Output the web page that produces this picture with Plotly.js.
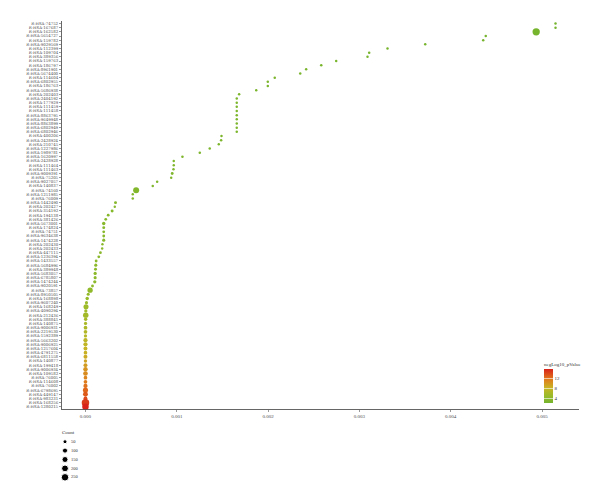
<!DOCTYPE html>
<html>
<head>
<meta charset="utf-8">
<script src="https://cdn.plot.ly/plotly-3.0.1.min.js"></script>
<style>html,body{margin:0;padding:0;background:#fff;}#chart{width:600px;height:502px;}</style>
</head>
<body>
<div id="chart"></div>
<script>
// ---- data (top row first) ----
const pathways = [
"R-HSA-74752","R-HSA-167687","R-HSA-162582","R-HSA-5654727","R-HSA-159782","R-HSA-9029569","R-HSA-112399","R-HSA-109704","R-HSA-389356","R-HSA-159763",
"R-HSA-186797","R-HSA-8961901","R-HSA-5674400","R-HSA-114604","R-HSA-6802955","R-HSA-186763","R-HSA-5686938","R-HSA-202403","R-HSA-2404192","R-HSA-177929",
"R-HSA-111459","R-HSA-111458","R-HSA-8863795","R-HSA-9649948","R-HSA-8863899","R-HSA-6802949","R-HSA-6802946","R-HSA-400206","R-HSA-2428924","R-HSA-210745",
"R-HSA-1227986","R-HSA-1989781","R-HSA-1620997","R-HSA-2428928","R-HSA-111464","R-HSA-111463","R-HSA-9009391","R-HSA-75205","R-HSA-9027057","R-HSA-140837",
"R-HSA-74160","R-HSA-1251985","R-HSA-76009","R-HSA-1442490","R-HSA-202427","R-HSA-354192","R-HSA-194138","R-HSA-381426","R-HSA-5673001","R-HSA-174824",
"R-HSA-74751","R-HSA-9634638","R-HSA-1474228","R-HSA-202430","R-HSA-202433","R-HSA-447115","R-HSA-1236394","R-HSA-1433557","R-HSA-5684996","R-HSA-389948",
"R-HSA-5683057","R-HSA-6785807","R-HSA-1474244","R-HSA-9020591","R-HSA-73857","R-HSA-8950505","R-HSA-168898","R-HSA-9607240","R-HSA-168249","R-HSA-4090294",
"R-HSA-212436","R-HSA-388841","R-HSA-140875","R-HSA-9006931","R-HSA-2219530","R-HSA-1592389","R-HSA-5663202","R-HSA-9006925","R-HSA-1257604","R-HSA-4791275",
"R-HSA-6811558","R-HSA-140877","R-HSA-199418","R-HSA-9006934","R-HSA-109582","R-HSA-76005","R-HSA-114608","R-HSA-76002","R-HSA-6798695","R-HSA-449147",
"R-HSA-983231","R-HSA-168256","R-HSA-1280215"
];
const pValue = [
0.005148,0.005148,0.004936,0.004384,0.004356,0.003721,0.003308,0.003107,0.003089,0.002746,
0.002582,0.002417,0.002352,0.002073,0.001997,0.001997,0.001870,0.001683,0.001657,0.001657,
0.001657,0.001657,0.001657,0.001657,0.001657,0.001657,0.001657,0.001490,0.001486,0.001460,
0.001361,0.001252,0.001062,0.000967,0.000967,0.000964,0.000950,0.000939,0.000785,0.000737,
0.000555,0.000518,0.000518,0.000329,0.000321,0.000292,0.000249,0.000222,0.000200,0.000200,
0.000200,0.000200,0.000200,0.000186,0.000183,0.000164,0.000146,0.000117,0.000113,0.000110,
0.000106,0.000106,0.000102,0.000077,0.000051,0.000030,0.000019,0.000011,0.000006,0.000004,
0.000003,0.000002,0.000001,0.0000005,0.0000003,0.0000001,0.00000005,0.00000003,0.00000001,0.000000005,
0.000000002,0.0000000008,0.0000000004,0.0000000001,0.00000000005,0.00000000002,0.00000000001,0.000000000003,0.000000000001,0.0000000000005,
0.0000000000002,0.0000000000001,0.00000000000004
];
const negLog10 = [
2.29,2.29,2.31,2.36,2.36,2.43,2.48,2.51,2.51,2.56,
2.59,2.62,2.63,2.68,2.70,2.70,2.73,2.77,2.78,2.78,
2.78,2.78,2.78,2.78,2.78,2.78,2.78,2.83,2.83,2.84,
2.87,2.90,2.97,3.01,3.01,3.02,3.02,3.03,3.11,3.13,
3.26,3.29,3.29,3.48,3.49,3.53,3.60,3.65,3.70,3.70,
3.70,3.70,3.70,3.73,3.74,3.78,3.84,3.93,3.95,3.96,
3.97,3.97,3.99,4.11,4.29,4.52,4.72,4.96,5.2,5.4,
5.6,5.8,6.0,6.3,6.6,6.9,7.3,7.6,8.0,8.3,
8.7,9.1,9.5,10.0,10.4,10.8,11.3,11.8,12.3,12.9,
13.6,14.2,15.4
];
const counts = [
3,3,235,3,3,3,3,4,3,3,
4,3,3,4,4,4,3,4,3,3,
3,3,4,3,3,3,4,4,4,2,
3,4,5,3,3,3,12,3,4,3,
150,3,4,15,2,15,12,12,30,15,
12,12,20,2,2,10,12,12,20,15,
25,20,25,12,110,20,30,20,100,25,
120,30,25,40,40,25,60,60,50,40,
50,30,50,70,80,40,40,60,100,90,
50,250,180
];
const countLegend = [50, 100, 150, 200, 250];
const xTicks = [0, 0.001, 0.002, 0.003, 0.004, 0.005];

// size mapping (area linear in count)
const sizeOf = c => Math.sqrt(5.56 + 0.203 * c);

const W = 600, H = 502;
const plotL = 62, plotR = 579, plotT = 21, plotB = 409.3;
const serif = "Liberation Serif, Times New Roman, serif";
const labelFont = "DejaVu Serif, Liberation Serif, serif";

const colorscale = [
  [0.0, "#74b42e"],
  [0.2, "#98bb2a"],
  [0.45, "#c8b424"],
  [0.7, "#e07a1c"],
  [1.0, "#d8231a"]
];

const main = {
  type: "scatter", mode: "markers",
  x: pValue, y: pathways,
  xaxis: "x", yaxis: "y",
  marker: {
    size: counts.map(sizeOf),
    color: negLog10,
    colorscale: colorscale,
    cmin: 2.2, cmax: 15.4,
    opacity: 1,
    line: {width: 0},
    showscale: true,
    colorbar: {
      x: 544 / W, xanchor: "left", xref: "paper", xpad: 0,
      y: (H - 381.3) / H, yanchor: "middle", ypad: 0,
      len: 44, lenmode: "pixels", thickness: 9, outlinewidth: 0,
      ticks: "inside", ticklen: 9, tickcolor: "#ffffff", tickwidth: 0.6,
      tickvals: [4, 8, 12], ticktext: ["4", "8", "12"],
      tickfont: {family: serif, size: 5, color: "#333"},
      title: {text: "negLog10_pValue", side: "top", font: {family: serif, size: 5, color: "#333"}}
    }
  },
  showlegend: false, hoverinfo: "x+y"
};

// size legend (hidden pixel-space axes)
const legY0 = 441.7, legStep = 8.9, legX = 65;
const sizeLeg = {
  type: "scatter", mode: "markers",
  x: countLegend.map(() => legX), y: countLegend.map((_, i) => legY0 + i * legStep),
  xaxis: "x2", yaxis: "y2",
  marker: {size: countLegend.map(sizeOf), color: "#000", opacity: 1},
  showlegend: false, hoverinfo: "skip"
};
const sizeLegText = {
  type: "scatter", mode: "text",
  x: countLegend.map(() => 71), y: countLegend.map((_, i) => legY0 + i * legStep),
  text: countLegend.map(String), textposition: "middle right",
  textfont: {family: serif, size: 4.5, color: "#333"},
  xaxis: "x2", yaxis: "y2", showlegend: false, hoverinfo: "skip"
};

const layout = {
  width: W, height: H,
  margin: {l: 0, r: 0, t: 0, b: 0},
  paper_bgcolor: "#fff", plot_bgcolor: "rgba(0,0,0,0)",
  showlegend: false,
  xaxis: {
    domain: [plotL / W, plotR / W],
    range: [-0.000257, 0.005405],
    tickmode: "array", tickvals: xTicks, ticktext: xTicks.map(v => v.toFixed(3)),
    ticks: "outside", ticklen: 2.5, tickwidth: 0.5, tickcolor: "#333",
    showline: true, linecolor: "#000", linewidth: 0.6,
    showgrid: false, zeroline: false,
    tickfont: {family: serif, size: 5, color: "#4d4d4d"},
    automargin: false
  },
  yaxis: {
    domain: [(H - plotB) / H, (H - plotT) / H],
    type: "category", categoryarray: pathways, categoryorder: "array",
    tickmode: "array", tickvals: pathways, ticktext: pathways,
    range: [pathways.length - 1 + 0.6, -0.6],
    ticks: "outside", ticklen: 2.5, tickwidth: 0.5, tickcolor: "#333",
    showline: true, linecolor: "#000", linewidth: 0.6,
    showgrid: false, zeroline: false,
    tickfont: {family: labelFont, size: 3.9, color: "#4d4d4d"},
    automargin: false
  },
  xaxis2: {domain: [0, 1], range: [0, W], visible: false, fixedrange: true, anchor: "y2"},
  yaxis2: {domain: [0, 1], range: [H, 0], visible: false, fixedrange: true, anchor: "x2"},
  annotations: [
    {xref: "x2", yref: "y2", x: 60, y: 432, text: "Count", showarrow: false,
     xanchor: "left", yanchor: "middle", font: {family: serif, size: 5, color: "#333"}}
  ]
};

Plotly.newPlot("chart", [sizeLeg, sizeLegText, main], layout, {staticPlot: true, displayModeBar: false});
</script>
</body>
</html>
